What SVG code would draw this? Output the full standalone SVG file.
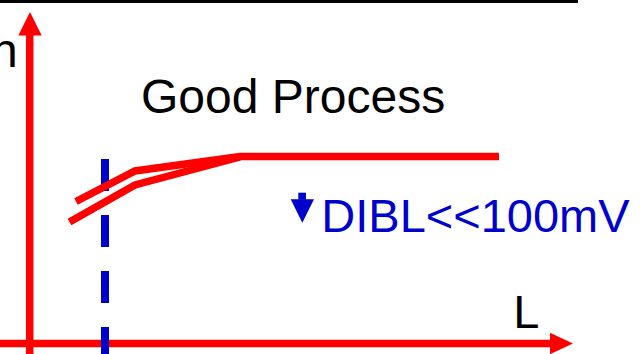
<svg xmlns="http://www.w3.org/2000/svg" width="640" height="354" viewBox="0 0 640 354">
<style>
.red{fill:none;stroke:#ff0000;stroke-width:7.5}
.blue{fill:#0000cc}
.t{font-family:"Liberation Sans",Arial,sans-serif}
</style>
<rect width="640" height="354" fill="#ffffff"/>
<line x1="0" y1="1.5" x2="578" y2="1.5" stroke="#000" stroke-width="3"/>
<g id="axes">
<line class="red" x1="29.7" y1="354" x2="29.7" y2="34"/>
<polygon points="30,12 18.3,35.5 41.7,35.5" fill="#ff0000"/>
<line class="red" x1="0" y1="343.5" x2="551" y2="343.5"/>
<polygon points="573,343.5 550,332.8 550,354.2" fill="#ff0000"/>
</g>
<g id="dashed-line">
<line x1="105" y1="159" x2="105" y2="354" stroke="#0000cc" stroke-width="8" stroke-dasharray="32 24"/>
</g>
<g id="curves">
<polyline class="red" points="76,201.5 135,171 240,156.5 499,156.5"/>
<polyline class="red" points="69.5,222 135,185 240,157"/>
</g>
<g id="labels">
<text class="t" x="-9" y="66.7" font-size="48" fill="#000">n</text>
<text class="t" x="141" y="113.3" font-size="48" fill="#000">Good Process</text>
<text class="t" x="513.3" y="328.3" font-size="47" fill="#000">L</text>
</g>
<g id="dibl">
<rect class="blue" x="298.3" y="192.7" width="7.7" height="7"/>
<polygon class="blue" points="290.7,199.3 314,199.3 302.3,222.7"/>
<text class="t" x="321.3" y="231.7" font-size="47" fill="#0000cc">DIBL&lt;&lt;100mV</text>
</g>
</svg>
